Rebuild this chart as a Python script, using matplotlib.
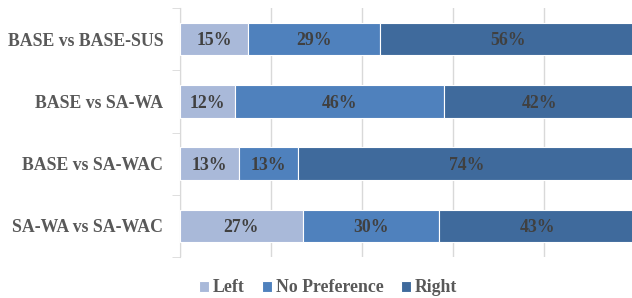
import numpy as np
import matplotlib
matplotlib.use('Agg')
import matplotlib.pyplot as plt

categories = ['BASE vs BASE-SUS', 'BASE vs SA-WA', 'BASE vs SA-WAC', 'SA-WA vs SA-WAC']
left = [15, 12, 13, 27]
no_pref = [29, 46, 13, 30]
right = [56, 42, 74, 43]
series_names = ['Left', 'No Preference', 'Right']
colors = ['#a9b9d9', '#4f81bd', '#3f6a9c']

plt.rcParams['font.family'] = ['Liberation Serif', 'DejaVu Serif']
plt.rcParams['font.weight'] = 'bold'
fs = 12.8

fig = plt.figure(figsize=(6.32, 2.98), dpi=100)
ax = fig.add_axes([180/632, (298-257)/298, 455/632, 249/298])

y = np.arange(len(categories))[::-1]
starts = np.zeros(len(categories))
for vals, name, col in zip([left, no_pref, right], series_names, colors):
    vals = np.array(vals)
    ax.barh(y, vals, left=starts, height=0.52, color=col, edgecolor='white',
            linewidth=0.8, label=name, zorder=3)
    for yi, s, v in zip(y, starts, vals):
        ax.text(s + v/2, yi - 0.03, '%d%%' % v, ha='center', va='center',
                fontsize=fs, fontweight='bold', color='#404040', zorder=4)
    starts = starts + vals

ax.set_xlim(0, 100)
ax.set_ylim(-0.5, len(categories) - 0.5)
ax.set_xticks([0, 20, 40, 60, 80, 100])
ax.set_xticklabels([])
ax.tick_params(axis='x', length=0)
ax.grid(axis='x', color='#d9d9d9', linewidth=1, zorder=0)

ax.set_yticks(y)
ax.set_yticklabels(categories, fontsize=fs, fontweight='bold', color='#595959')
ax.tick_params(axis='y', which='major', length=0, pad=12)
ax.set_yticks(np.arange(-0.5, len(categories), 1), minor=True)
ax.tick_params(axis='y', which='minor', length=6, color='#d9d9d9', direction='out')

for sp in ['top', 'right', 'bottom']:
    ax.spines[sp].set_visible(False)
ax.spines['left'].set_color('#d9d9d9')

leg = fig.legend(loc='center', bbox_to_anchor=(328/632, 1 - 288/298), ncol=3,
                 frameon=False, fontsize=fs, handlelength=0.56, handleheight=0.56,
                 handletextpad=0.2, columnspacing=1.0)
for t in leg.get_texts():
    t.set_color('#595959')
    t.set_fontweight('bold')

fig.savefig('out.png', dpi=100)
